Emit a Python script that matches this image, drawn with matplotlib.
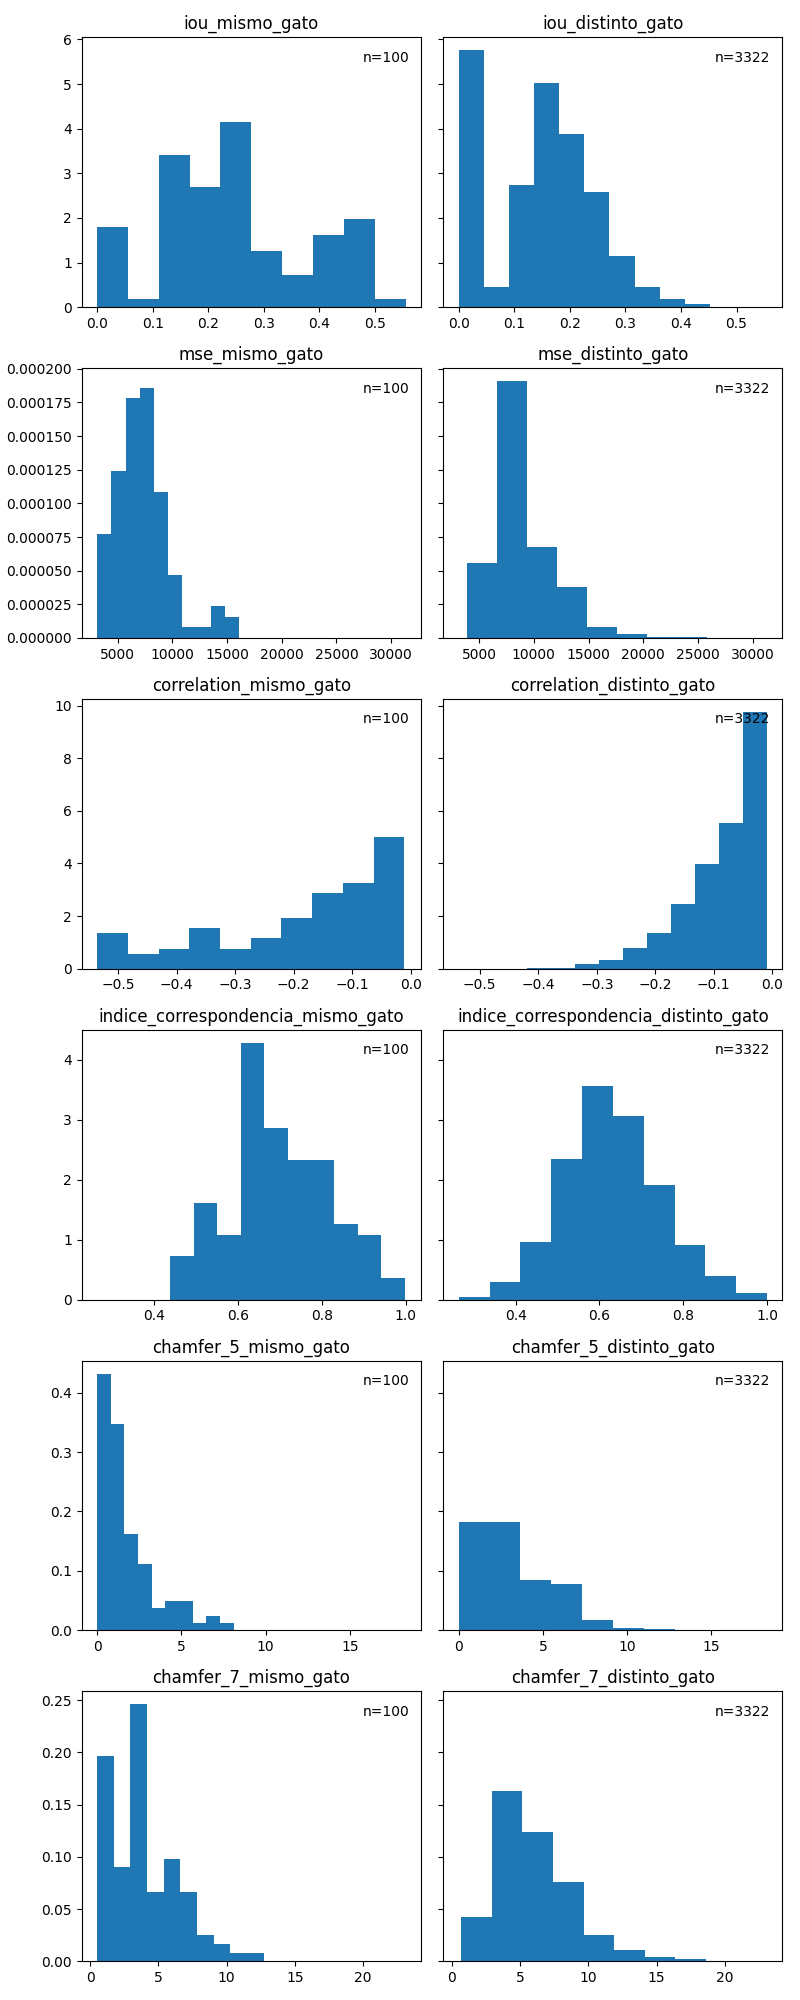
import numpy as np
import matplotlib
matplotlib.use('Agg')
import matplotlib.pyplot as plt

# metric names (one row each), bins are 10 equal-width bins between lo and hi
metrics = ['iou', 'mse', 'correlation', 'indice_correspondencia', 'chamfer_5', 'chamfer_7']
n_mismo = 100
n_distinto = 3322

# bin ranges
mismo_range = {
    'iou': (0.0, 0.555),
    'mse': (3140, 16130),
    'correlation': (-0.536, -0.011),
    'indice_correspondencia': (0.439, 0.998),
    'chamfer_5': (0.0, 8.1),
    'chamfer_7': (0.51, 12.7),
}
distinto_range = {
    'iou': (0.0, 0.452),
    'mse': (3910, 31310),
    'correlation': (-0.419, -0.009),
    'indice_correspondencia': (0.264, 1.0),
    'chamfer_5': (0.0, 18.3),
    'chamfer_7': (0.7, 23.1),
}

# density heights per bin
iou_mismo = [1.80, 0.18, 3.42, 2.70, 4.15, 1.26, 0.72, 1.62, 1.98, 0.18]
iou_distinto = [5.76, 0.44, 2.73, 5.03, 3.87, 2.59, 1.14, 0.46, 0.185, 0.074]

mse_mismo = [0.0000776, 0.0001238, 0.0001784, 0.0001857, 0.0001083,
             0.0000464, 0.0000084, 0.0000084, 0.0000236, 0.0000157]
mse_distinto = [0.0000560, 0.0001909, 0.0000678, 0.0000376, 0.0000081,
                0.0000029, 0.0000007, 0.0000005, 0.00000008, 0.00000004]

correlation_mismo = [1.37, 0.58, 0.77, 1.56, 0.77, 1.18, 1.93, 2.88, 3.25, 4.99]
correlation_distinto = [0.04, 0.04, 0.20, 0.35, 0.80, 1.37, 2.46, 3.97, 5.52, 9.76]

indice_mismo = [0.728, 1.605, 1.075, 4.286, 2.863, 2.333, 2.333, 1.258, 1.075, 0.364]
indice_distinto = [0.05, 0.30, 0.96, 2.35, 3.56, 3.07, 1.91, 0.91, 0.40, 0.116]

chamfer5_mismo = [0.432, 0.347, 0.1616, 0.1114, 0.0379, 0.0496, 0.0496, 0.0128, 0.0245, 0.0128]
chamfer5_distinto = [0.1816, 0.1816, 0.0847, 0.078, 0.0178, 0.0045, 0.0022, 0.0005, 0.00033, 0.00033]

chamfer7_mismo = [0.1967, 0.0906, 0.2459, 0.066, 0.0982, 0.066, 0.0253, 0.0167, 0.0082, 0.0082]
chamfer7_distinto = [0.0423, 0.1626, 0.1237, 0.0754, 0.0253, 0.011, 0.0044, 0.0025, 0.0003, 0.00015]

mismo_heights = {
    'iou': iou_mismo, 'mse': mse_mismo, 'correlation': correlation_mismo,
    'indice_correspondencia': indice_mismo, 'chamfer_5': chamfer5_mismo, 'chamfer_7': chamfer7_mismo,
}
distinto_heights = {
    'iou': iou_distinto, 'mse': mse_distinto, 'correlation': correlation_distinto,
    'indice_correspondencia': indice_distinto, 'chamfer_5': chamfer5_distinto, 'chamfer_7': chamfer7_distinto,
}


def draw_hist(ax, lo, hi, heights, title, n):
    edges = np.linspace(lo, hi, len(heights) + 1)
    ax.hist(edges[:-1], bins=edges, weights=heights, color='#1f77b4')
    ax.set_title(title)
    ax.text(0.965, 0.95, 'n=%d' % n, transform=ax.transAxes, ha='right', va='top')


fig, axes = plt.subplots(6, 2, figsize=(8, 20), sharex='row', sharey='row')

for i, m in enumerate(metrics):
    lo, hi = mismo_range[m]
    draw_hist(axes[i, 0], lo, hi, mismo_heights[m], m + '_mismo_gato', n_mismo)
    lo, hi = distinto_range[m]
    draw_hist(axes[i, 1], lo, hi, distinto_heights[m], m + '_distinto_gato', n_distinto)

plt.tight_layout()
plt.savefig('out.png', dpi=100)
